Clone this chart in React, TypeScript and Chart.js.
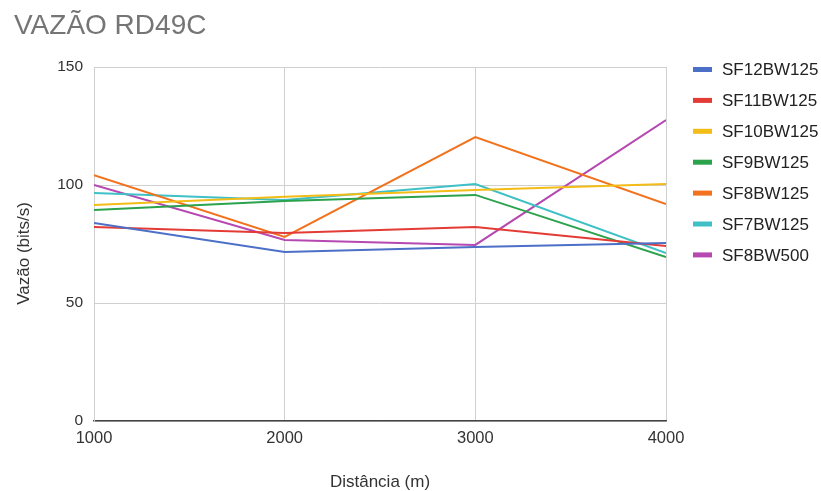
import React, { useEffect, useRef } from "react";
import { Chart, registerables } from "chart.js";

Chart.register(...registerables);

const distances = [1000, 2000, 3000, 4000];
const seriesNames = ["SF12BW125", "SF11BW125", "SF10BW125", "SF9BW125", "SF8BW125", "SF7BW125", "SF8BW500"];
const sf12bw125 = [83.9, 71.6, 73.7, 75.4];
const sf11bw125 = [82.2, 79.7, 82.2, 74.2];
const sf10bw125 = [91.5, 95.0, 97.9, 100.4];
const sf9bw125 = [89.4, 93.2, 95.8, 69.5];
const sf8bw125 = [104.2, 78.0, 120.3, 91.9];
const sf7bw125 = [96.6, 93.6, 100.4, 71.2];
const sf8bw500 = [100.0, 76.7, 74.6, 127.5];
const seriesValues = [sf12bw125, sf11bw125, sf10bw125, sf9bw125, sf8bw125, sf7bw125, sf8bw500];
const seriesColors = ["#4C6FC7", "#E33B35", "#F4BC16", "#2BA24C", "#F2711C", "#3FC0C6", "#B548B1"];
const yTicks = [0, 50, 100, 150];

const FONT = '"Liberation Sans", Arial, sans-serif';

const legendPlugin = {
  id: "sideLegend",
  afterDraw(chart: any) {
    const ctx = chart.ctx;
    const area = chart.chartArea;
    const x0 = area.right + 27;
    const y0 = 69.5;
    const step = 30.9;
    ctx.save();
    chart.data.datasets.forEach((ds: any, i: number) => {
      const y = y0 + i * step;
      ctx.fillStyle = ds.borderColor;
      ctx.fillRect(x0, y - 2.5, 19, 5);
      ctx.fillStyle = "#222222";
      ctx.font = `17px ${FONT}`;
      ctx.textBaseline = "middle";
      ctx.textAlign = "left";
      ctx.fillText(ds.label, x0 + 29, y + 1);
    });
    ctx.restore();
  },
};

export default function App() {
  const ref = useRef<HTMLCanvasElement | null>(null);
  useEffect(() => {
    if (!ref.current) return;
    const chart = new Chart(ref.current, {
      type: "line",
      data: {
        datasets: seriesNames.map((name, i) => ({
          label: name,
          data: distances.map((d, j) => ({ x: d, y: seriesValues[i][j] })),
          borderColor: seriesColors[i],
          backgroundColor: seriesColors[i],
          borderWidth: 2,
          pointRadius: 0,
          tension: 0,
        })),
      },
      options: {
        animation: false,
        responsive: true,
        maintainAspectRatio: false,
        layout: { padding: { left: 14, right: 155, top: 0, bottom: 0 } },
        plugins: {
          legend: { display: false },
          tooltip: { enabled: false },
          title: {
            display: true,
            text: "VAZÃO RD49C",
            align: "start",
            color: "#757575",
            font: { family: FONT, size: 28, weight: "normal" },
            padding: { top: 9, bottom: 24.4 },
          },
        },
        scales: {
          x: {
            type: "linear",
            min: 1000,
            max: 4000,
            afterBuildTicks: (scale: any) => {
              scale.ticks = distances.map((v) => ({ value: v }));
            },
            ticks: {
              color: "#333333",
              font: { family: FONT, size: 16.5 },
              padding: 8,
              maxRotation: 0,
              callback: (v: any) => String(v),
            },
            grid: { color: "#d0d0d0", drawTicks: false },
            border: { color: "#444444", width: 1.5 },
            title: {
              display: true,
              text: "Distância (m)",
              color: "#333333",
              font: { family: FONT, size: 17 },
              padding: { top: 10, bottom: -1.5 },
            },
            afterFit: (scale: any) => {
              scale.height = 70;
            },
          },
          y: {
            min: 0,
            max: 150,
            afterBuildTicks: (scale: any) => {
              scale.ticks = yTicks.map((v) => ({ value: v }));
            },
            ticks: {
              color: "#333333",
              font: { family: FONT, size: 15.5 },
              padding: 11,
              callback: (v: any) => String(v),
            },
            grid: { color: "#d0d0d0", drawTicks: false },
            border: { color: "#d0d0d0" },
            title: {
              display: true,
              text: "Vazão (bits/s)\u00a0\u00a0\u00a0\u00a0",
              color: "#333333",
              font: { family: FONT, size: 17 },
              padding: { top: 0, bottom: 0 },
            },
            afterFit: (scale: any) => {
              scale.width = 80;
            },
          },
        },
      },
      plugins: [legendPlugin],
    } as any);
    return () => chart.destroy();
  }, []);
  return (
    <div style={{ position: "fixed", left: 0, top: 0, width: 821, height: 491, background: "#ffffff" }}>
      <canvas ref={ref} />
    </div>
  );
}
